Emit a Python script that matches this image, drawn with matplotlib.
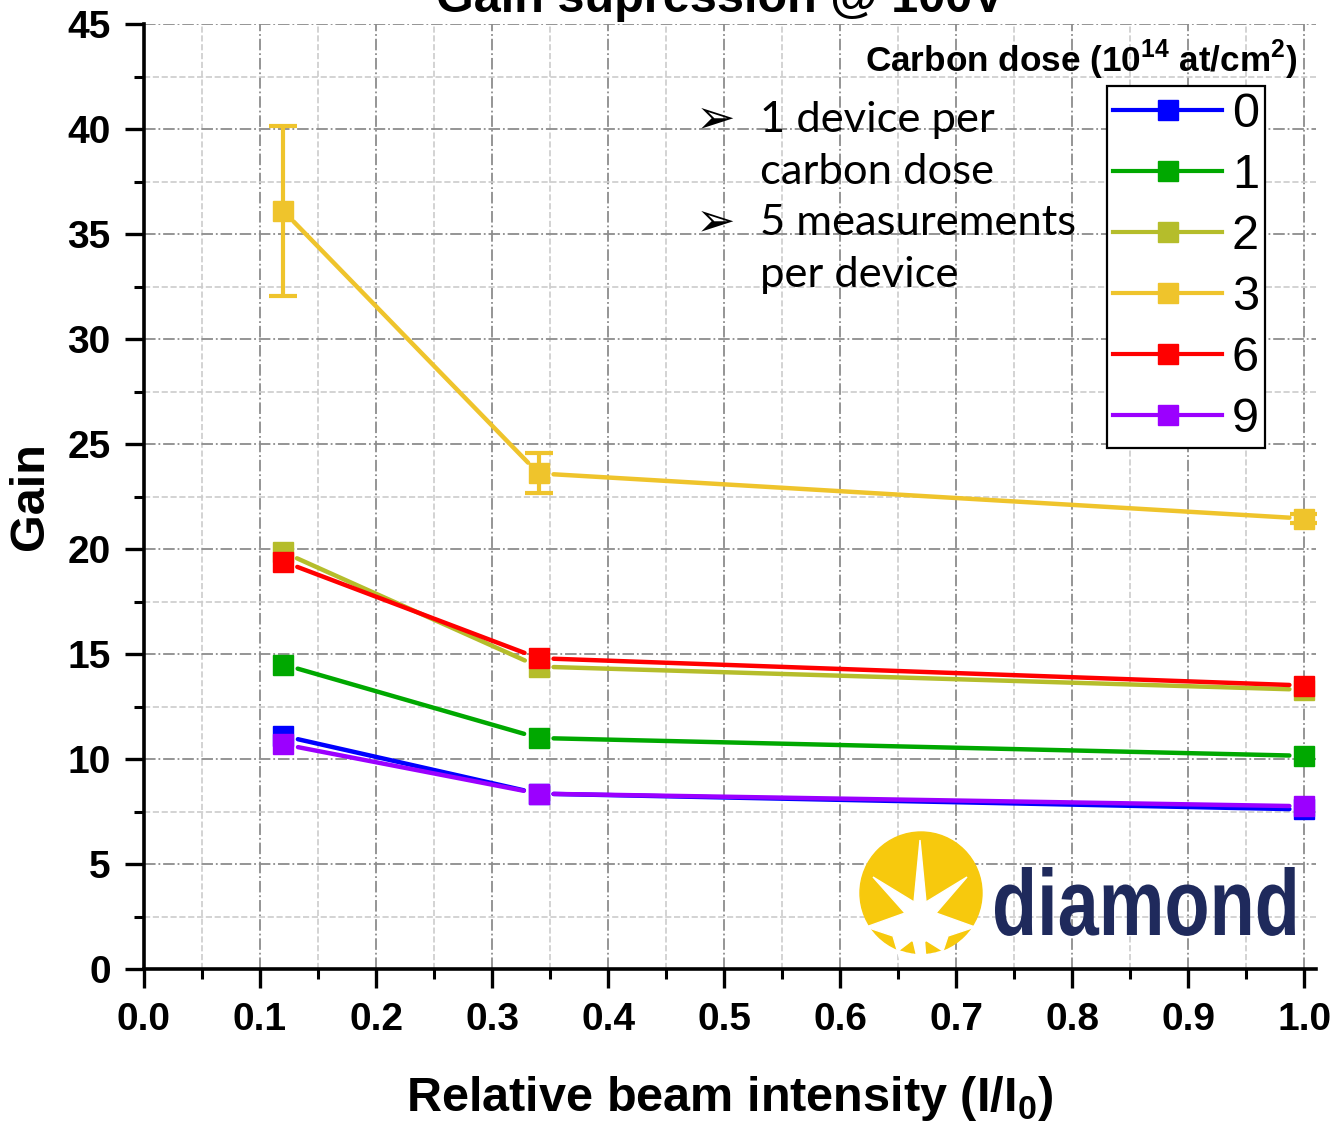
import matplotlib
matplotlib.use('Agg')
import matplotlib.pyplot as plt
from matplotlib.patches import Circle, Polygon, PathPatch
from matplotlib.ticker import MultipleLocator
from matplotlib.textpath import TextPath
from matplotlib.font_manager import FontProperties
from matplotlib.transforms import Affine2D
import numpy as np

plt.rcParams['font.family'] = ['Liberation Sans', 'DejaVu Sans']
plt.rcParams['mathtext.fontset'] = 'custom'
plt.rcParams['mathtext.rm'] = 'Liberation Sans:bold'
plt.rcParams['mathtext.bf'] = 'Liberation Sans:bold'

# relative beam intensity (I/I0)
intensity = [0.12, 0.34, 1.0]

# gain per carbon dose (10^14 at/cm^2)
doses = ['0', '1', '2', '3', '6', '9']
gain_0 = [11.1, 8.35, 7.6]
gain_1 = [14.5, 11.0, 10.15]
gain_2 = [19.85, 14.4, 13.3]
gain_3 = [36.1, 23.6, 21.45]
gain_6 = [19.4, 14.8, 13.5]
gain_9 = [10.7, 8.35, 7.75]
err_3 = [4.05, 0.95, 0.2]

gains = [gain_0, gain_1, gain_2, gain_3, gain_6, gain_9]
colors = ['#0000ff', '#00a800', '#b5bd2b', '#efc42c', '#ff0000', '#9b00ff']

W, H = 1334, 1123
fig = plt.figure(figsize=(W / 100, H / 100), dpi=100)
ax = fig.add_axes([144 / W, 1 - 969 / H, 1172 / W, 945 / H])
ax.set_xlim(0, 1.01)
ax.set_ylim(0, 45)

ax.xaxis.set_minor_locator(MultipleLocator(0.05))
ax.yaxis.set_major_locator(MultipleLocator(5))
ax.yaxis.set_minor_locator(MultipleLocator(2.5))
ax.set_xticks(np.arange(0, 1.01, 0.1))
ax.set_xticklabels(['%.1f' % v for v in np.arange(0, 1.01, 0.1)])

ax.grid(which='major', color='#8c8c8c', linestyle='-.', linewidth=1.3)
ax.grid(which='minor', color='#cccccc', linestyle='--', linewidth=1.2)
ax.set_axisbelow(True)

for side in ['top', 'right']:
    ax.spines[side].set_visible(False)
for side in ['left', 'bottom']:
    ax.spines[side].set_linewidth(2.6)
ax.tick_params(which='major', direction='out', length=14, width=2.4,
               labelsize=28, pad=10)
ax.tick_params(which='minor', direction='out', length=7, width=2.2)
for lab in ax.get_xticklabels() + ax.get_yticklabels():
    lab.set_fontweight('bold')


def gapped_line(xs, ys, color, gap=15):
    # line segments stopping short of the markers
    pts = ax.transData.transform(np.column_stack([xs, ys]))
    inv = ax.transData.inverted()
    for p0, p1 in zip(pts[:-1], pts[1:]):
        d = p1 - p0
        u = d / np.hypot(*d)
        a = inv.transform(p0 + u * gap)
        b = inv.transform(p1 - u * gap)
        ax.plot([a[0], b[0]], [a[1], b[1]], color=color, linewidth=3.2,
                solid_capstyle='round', zorder=3)


handles = []
for label, g, c in zip(doses, gains, colors):
    gapped_line(intensity, g, c)
    if label == '3':
        ax.errorbar(intensity, g, yerr=err_3, fmt='none', ecolor=c,
                    elinewidth=3, capsize=10, capthick=3, zorder=3)
    ax.plot(intensity, g, linestyle='none', marker='s', markersize=14,
            color=c, markeredgecolor=c, zorder=4)
    h, = ax.plot([], [], color=c, linewidth=3, marker='s', markersize=14,
                 markeredgecolor=c, label=label)
    handles.append(h)

leg = ax.legend(handles=handles, loc='upper left',
                bbox_to_anchor=(1107 / W, 1 - 86 / H),
                bbox_transform=fig.transFigure, borderaxespad=0,
                fontsize=35, frameon=True, fancybox=False, framealpha=1,
                edgecolor='black', handlelength=2.25, handletextpad=0.2,
                labelspacing=0.33, borderpad=0.12)
leg.get_frame().set_linewidth(1.6)
leg.set_zorder(6)

fig.text(1297 / W, 1 - 60 / H, r'Carbon dose (10$^{14}$ at/cm$^{2}$)',
         fontsize=25.3, fontweight='bold', ha='right', va='center')

ax.set_xlabel(r'Relative beam intensity (I/I$_{0}$)', fontsize=35,
              fontweight='bold', labelpad=26)
ax.set_ylabel('Gain', fontsize=35, fontweight='bold', labelpad=10)
fig.text(720 / W, 1 - 12 / H, 'Gain supression @ 100V', fontsize=35,
         fontweight='bold', ha='center', va='baseline')

# notes
note_lines = ['1 device per', 'carbon dose', '5 measurements', 'per device']
note_y = [120, 172, 223, 275]
for txt, yy in zip(note_lines, note_y):
    fig.text(760 / W, 1 - yy / H, txt, fontsize=31.3,
             family=['Lato', 'DejaVu Sans'], ha='left', va='center')
for yy in [note_y[0], note_y[2]]:
    fig.text(716 / W, 1 - yy / H, '\u27a2', fontsize=34,
             family=['DejaVu Sans'], ha='center', va='center')

# diamond logo, drawn in pixel units
lx0, lx1, ly0, ly1 = 850, 1310, 825, 962
lax = fig.add_axes([lx0 / W, 1 - ly1 / H, (lx1 - lx0) / W, (ly1 - ly0) / H])
lax.set_xlim(lx0, lx1)
lax.set_ylim(ly1, ly0)
lax.axis('off')
disc = Circle((921, 893), 61, color='#f7c90d', zorder=1)
lax.add_patch(disc)
burst = Polygon([(914, 902), (920, 840), (926, 902), (967, 877), (936, 913),
                 (975, 927), (948, 936), (940, 960), (900, 960), (893, 936),
                 (866, 927), (905, 913), (873, 877)],
                closed=True, color='white', zorder=2)
lax.add_patch(burst)
for tri in [[(899, 952), (912, 942), (915, 955)],
            [(926, 942), (942, 952), (927, 955)]]:
    p = Polygon(tri, closed=True, color='#f7c90d', zorder=3)
    p.set_clip_path(disc)
    lax.add_patch(p)

# wordmark, stretched to fill its box
word = TextPath((0, 0), 'diamond', size=10,
                prop=FontProperties(family='Liberation Sans', weight='bold'))
ext = word.get_extents()
sx = 300 / ext.width
sy = 68 / ext.y1
word_tf = Affine2D().translate(-ext.x0, 0).scale(sx, -sy).translate(995, 935)
lax.add_patch(PathPatch(word_tf.transform_path(word), color='#1f2a5c',
                        linewidth=0, zorder=2))

fig.savefig('out.png', dpi=100)
